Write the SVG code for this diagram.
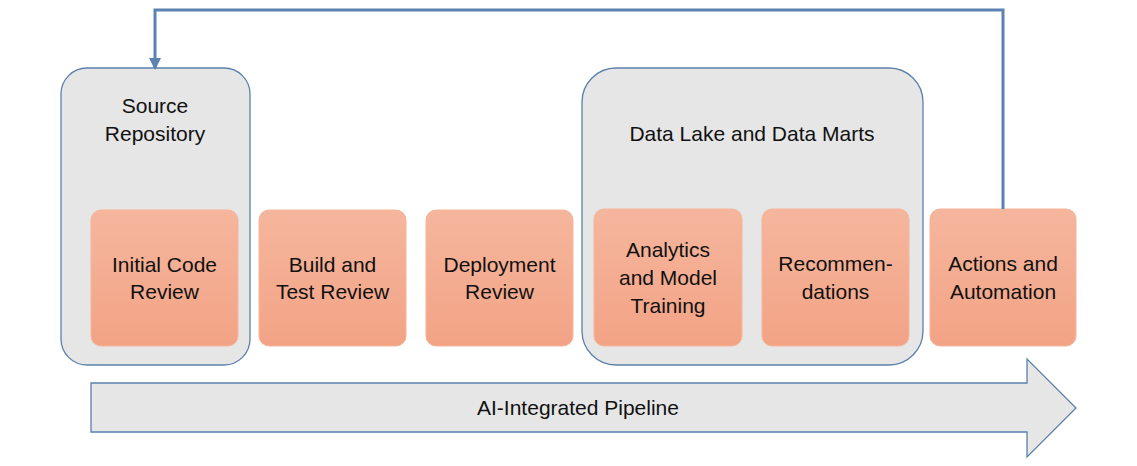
<svg xmlns="http://www.w3.org/2000/svg" width="1137" height="466" viewBox="0 0 1137 466">
<defs>
<linearGradient id="og" x1="0" y1="0" x2="0" y2="1">
<stop offset="0" stop-color="#f5b69d"/>
<stop offset="1" stop-color="#f3a385"/>
</linearGradient>
<marker id="ah" markerWidth="12" markerHeight="12" refX="10" refY="6" orient="auto" markerUnits="userSpaceOnUse" viewBox="0 0 12 12">
<path d="M0,0 L12,6 L0,12 Z" fill="#5b82b0"/>
</marker>
<style>
.grp{fill:#e6e6e6;stroke:#5b80ad;stroke-width:1.3}
.step{fill:url(#og);stroke:#f5b59a;stroke-width:1}
.t{font-family:"Liberation Sans",Arial,sans-serif;font-size:21px;fill:#111111;text-anchor:middle}
.conn{fill:none;stroke:#5b82b0;stroke-width:3}
</style>
</defs>
<rect width="1137" height="466" fill="#ffffff"/>
<g id="pipeline">
<path d="M91,383 H1027 V359 L1076,408 L1027,457 V432 H91 Z" fill="#e6e6e6" stroke="#5b80ad" stroke-width="1.3"/>
<text class="t" x="578" y="415">AI-Integrated Pipeline</text>
</g>
<g id="source-repository">
<rect class="grp" x="61" y="68" width="189" height="297" rx="26"/>
<text class="t" x="155" y="113">Source</text>
<text class="t" x="155" y="141">Repository</text>
</g>
<g id="data-lake">
<rect class="grp" x="582" y="68" width="341" height="297" rx="34"/>
<text class="t" x="752" y="141">Data Lake and Data Marts</text>
</g>
<g id="initial-code-review">
<rect class="step" x="91" y="210" width="147" height="136" rx="10"/>
<text class="t" x="164.5" y="272">Initial Code</text>
<text class="t" x="164.5" y="299">Review</text>
</g>
<g id="build-test-review">
<rect class="step" x="259" y="210" width="147" height="136" rx="10"/>
<text class="t" x="332.5" y="272">Build and</text>
<text class="t" x="332.5" y="299">Test Review</text>
</g>
<g id="deployment-review">
<rect class="step" x="426" y="210" width="147" height="136" rx="10"/>
<text class="t" x="499.5" y="272">Deployment</text>
<text class="t" x="499.5" y="299">Review</text>
</g>
<g id="analytics">
<rect class="step" x="594" y="209" width="148" height="137" rx="10"/>
<text class="t" x="668" y="257">Analytics</text>
<text class="t" x="668" y="285">and Model</text>
<text class="t" x="668" y="313">Training</text>
</g>
<g id="recommendations">
<rect class="step" x="762" y="209" width="147" height="137" rx="10"/>
<text class="t" x="835.5" y="271">Recommen-</text>
<text class="t" x="835.5" y="299">dations</text>
</g>
<g id="actions-automation">
<rect class="step" x="930" y="209" width="146" height="137" rx="10"/>
<text class="t" x="1003" y="271">Actions and</text>
<text class="t" x="1003" y="299">Automation</text>
</g>
<g id="connectors">
<path class="conn" d="M1003,209 V10 H155 V68" marker-end="url(#ah)"/>
</g>
</svg>
